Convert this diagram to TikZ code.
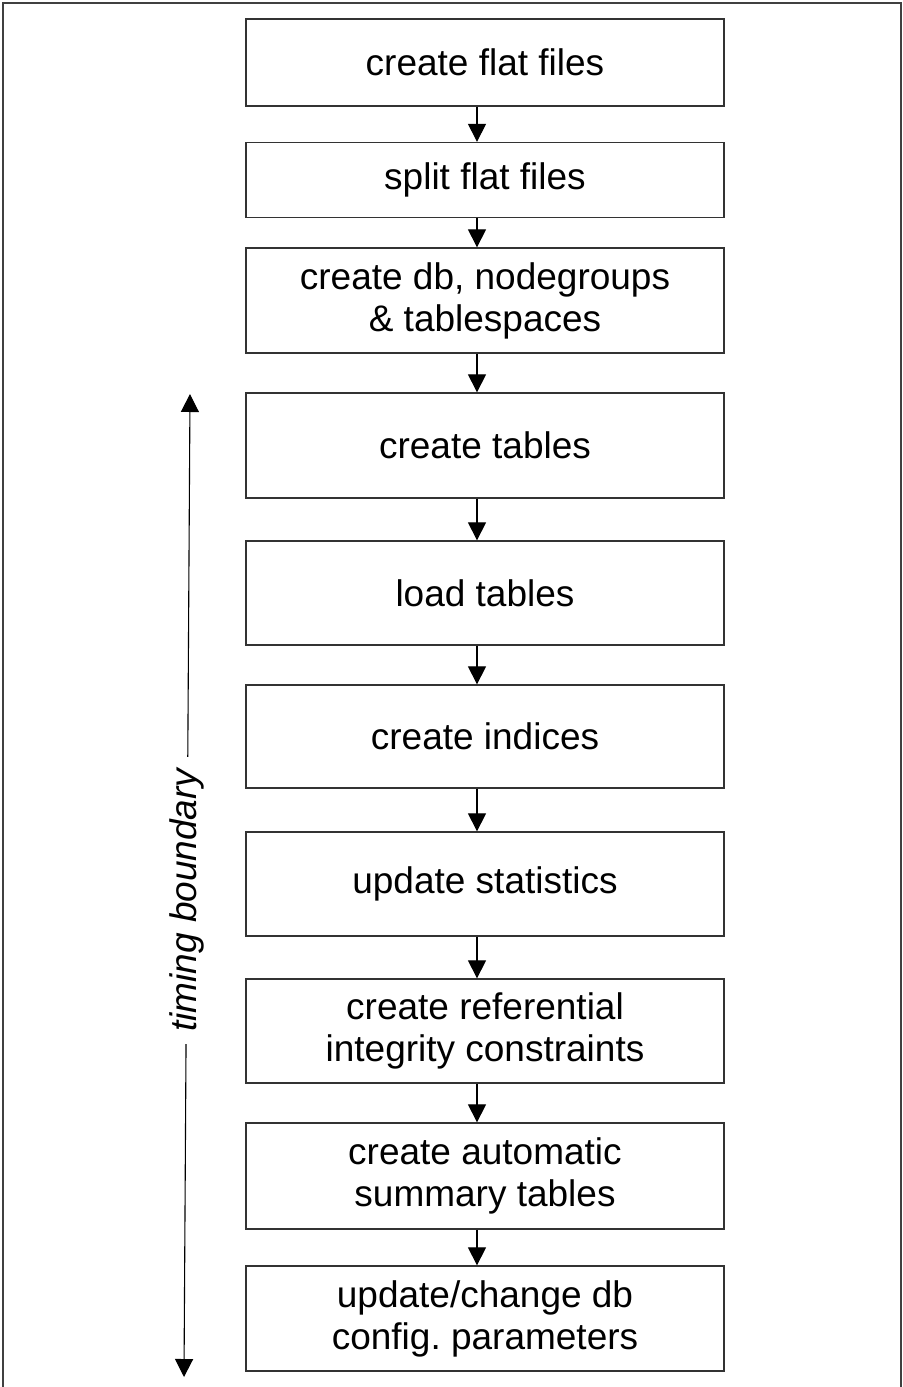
\documentclass[tikz,border=0pt]{standalone}
\usepackage{fontspec}
\setmainfont{Liberation Sans}
\usetikzlibrary{arrows.meta,positioning}
\frenchspacing

\begin{document}
\begin{tikzpicture}[x=0.5pt, y=-0.5pt,
    every node/.style={font=\fontsize{18.5}{21}\selectfont},
    stepbox/.style={draw=black!80, line width=0.65pt, minimum width=239pt, inner sep=0pt, align=center},
    flow/.style={-{Triangle[width=9pt,length=9pt]}, line width=0.55pt}]
    \useasboundingbox (0,0) rectangle (902,1387);

    % Frame (open at the bottom)
    \draw[black!75, line width=0.8pt] (3,1400) -- (3,3) -- (901,3) -- (901,1400);

    % Steps
    \node[stepbox, minimum height=43.5pt] (flat) at (485,62.5) {create flat files};
    \node[stepbox, minimum height=37.5pt] (split) at (485,180) {split flat files};
    \node[stepbox, minimum height=52.5pt] (db) at (485,300.5) {create db, nodegroups\\ \& tablespaces};
    \node[stepbox, minimum height=52.5pt] (tables) at (485,445.5) {create tables};
    \node[stepbox, minimum height=52pt] (load) at (485,593) {load tables};
    \node[stepbox, minimum height=51.5pt] (indices) at (485,736.5) {create indices};
    \node[stepbox, minimum height=52pt] (stats) at (485,884) {update statistics};
    \node[stepbox, minimum height=52pt] (refint) at (485,1031) {create referential\\ integrity constraints};
    \node[stepbox, minimum height=53pt] (summary) at (485,1176) {create automatic\\ summary tables};
    \node[stepbox, minimum height=52.5pt] (config) at (485,1318.5) {update/change db\\ config. parameters};

    % Arrows between steps
    \foreach \a/\b in {flat/split, split/db, db/tables, tables/load, load/indices,
                       indices/stats, stats/refint, refint/summary, summary/config}
        \draw[flow] ([xshift=-4pt]\a.south) -- ([xshift=-4pt]\b.north);

    % Timing boundary
    \coordinate (tbtop) at (190,394);
    \coordinate (tbbot) at (184,1377);
    \draw[flow, {Triangle[width=9pt,length=9pt]}-{Triangle[width=9pt,length=9pt]}] (tbtop) --
        node[pos=0.515, rotate=90, fill=white, inner xsep=6pt, inner ysep=1pt, font=\fontsize{18.5}{21}\selectfont\itshape] (timing) {timing boundary}
        (tbbot);
\end{tikzpicture}
\end{document}
